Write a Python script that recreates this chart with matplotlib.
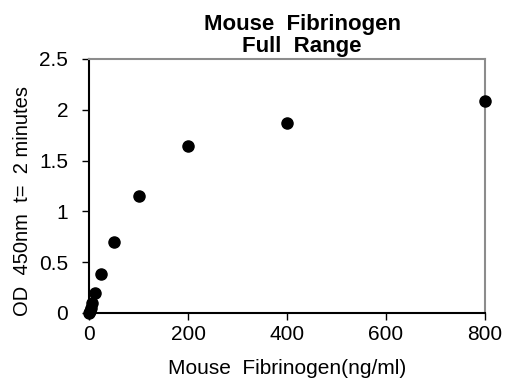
import matplotlib
matplotlib.use("Agg")
import matplotlib.pyplot as plt

# Standard curve values
conc_ng_ml = [0, 1.5625, 3.125, 6.25, 12.5, 25, 50, 100, 200, 400, 800]
od_450 = [0.0, 0.02, 0.05, 0.10, 0.20, 0.38, 0.70, 1.15, 1.64, 1.87, 2.09]

x_ticks = [0, 200, 400, 600, 800]
y_ticks = [0, 0.5, 1, 1.5, 2, 2.5]
y_tick_labels = ["0", "0.5", "1", "1.5", "2", "2.5"]

plt.rcParams['font.family'] = ['Liberation Sans', 'DejaVu Sans']

fig = plt.figure(figsize=(5.06, 3.82), dpi=100)
# axes box: x 89..485 px, y 59..313 px
ax = fig.add_axes([89 / 506, 1 - 313 / 382, 396 / 506, 254 / 382])

ax.scatter(conc_ng_ml, od_450, s=64, color='black', zorder=5, clip_on=False)

ax.set_xlim(0, 800)
ax.set_ylim(0, 2.5)
ax.set_xticks(x_ticks)
ax.set_yticks(y_ticks)
ax.set_yticklabels(y_tick_labels)

ax.spines['left'].set_color('black')
ax.spines['bottom'].set_color('black')
ax.spines['top'].set_color('#8c8c8c')
ax.spines['right'].set_color('#8c8c8c')
for s in ax.spines.values():
    s.set_linewidth(1.5)

ax.tick_params(direction='out', length=5, width=1, labelsize=15, colors='black',
               top=False, right=False)
ax.tick_params(axis='y', pad=10)
ax.tick_params(axis='x', pad=4)

ax.set_xlabel('Mouse  Fibrinogen(ng/ml)', fontsize=15)
ax.set_ylabel('OD  450nm  t=  2 minutes', fontsize=14.5)
ax.xaxis.set_label_coords(0.5, -0.18)
ax.yaxis.set_label_coords(-0.144, 0.44)
ax.set_title('Mouse  Fibrinogen\nFull  Range', fontsize=16, fontweight='bold',
             linespacing=1.05, pad=5, x=0.538)

fig.savefig('out.png', dpi=100)
